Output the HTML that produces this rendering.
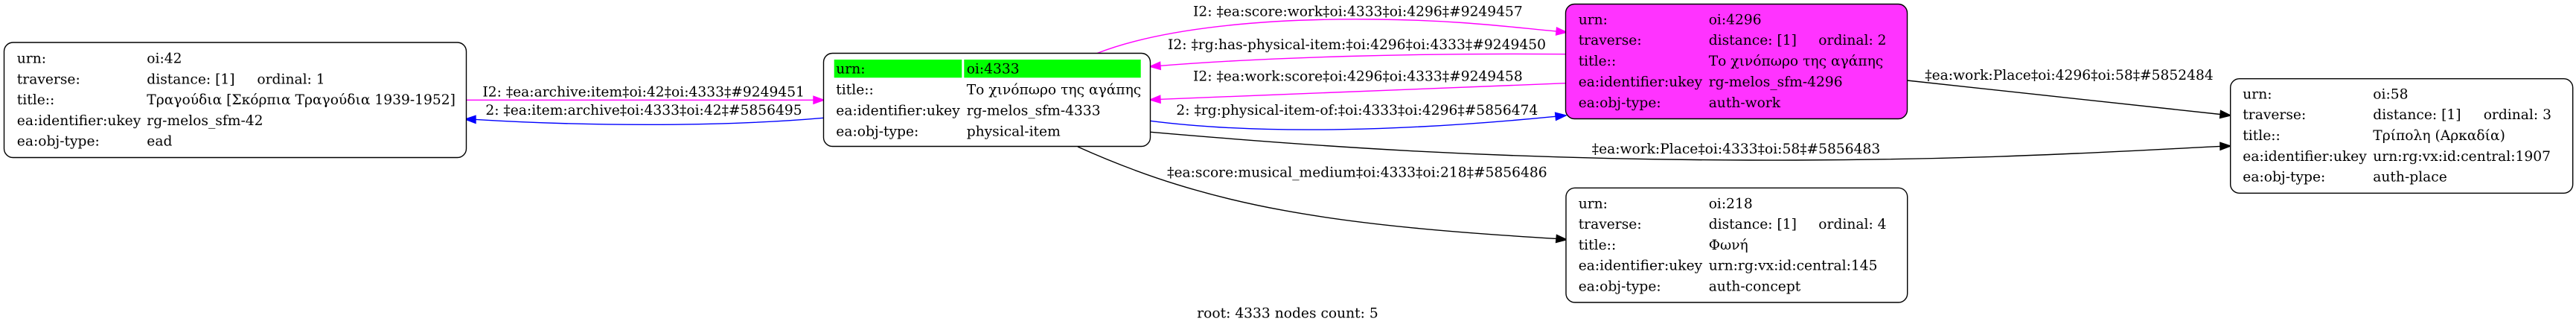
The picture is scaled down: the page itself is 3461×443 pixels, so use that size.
<!DOCTYPE html>
<html>
<head>
<meta charset="utf-8">
<style>
  html, body { margin: 0; padding: 0; background: #ffffff; }
  svg { display: block; }
  text { font-family: "DejaVu Serif", "Liberation Serif", "Noto Serif CJK SC", serif; font-size: 18.67px; fill: #000; }
</style>
</head>
<body>
<svg width="3461" height="443" viewBox="0 0 3461 443" xmlns="http://www.w3.org/2000/svg">
  <rect x="0" y="0" width="3461" height="443" fill="#ffffff"/>

  <!-- ===== Edges ===== -->
  <!-- 42 -> 4333 magenta -->
  <path d="M626.5,134.3 L1093,134.3" fill="none" stroke="#ff00ff" stroke-width="1.4"/>
  <polygon points="1107,134.3 1093,129.3 1093,139.3" fill="#ff00ff" stroke="#ff00ff" stroke-width="1.4"/>
  <text x="864.7" y="129.3" text-anchor="middle">I2: ‡ea:archive:item‡oi:42‡oi:4333‡#9249451</text>

  <!-- 4333 -> 42 blue -->
  <path d="M1106.5,158.3 C960,171 780,169 639,160.4" fill="none" stroke="#0000ff" stroke-width="1.4"/>
  <polygon points="625,160 639,155.4 639,165.4" fill="#0000ff" stroke="#0000ff" stroke-width="1.4"/>
  <text x="865" y="154" text-anchor="middle">2: ‡ea:item:archive‡oi:4333‡oi:42‡#5856495</text>

  <!-- 4333 -> 4296 score:work magenta -->
  <path d="M1474,71.5 C1560,38 1700,24 1850,26 C1960,27 2030,36.5 2091,42" fill="none" stroke="#ff00ff" stroke-width="1.4"/>
  <polygon points="2105,43.3 2090.6,47 2091.6,37" fill="#ff00ff" stroke="#ff00ff" stroke-width="1.4"/>
  <text x="1824.4" y="21.7" text-anchor="middle">I2: ‡ea:score:work‡oi:4333‡oi:4296‡#9249457</text>

  <!-- 4296 -> 4333 has-physical-item magenta -->
  <path d="M2103.5,72.7 C1900,71 1700,77 1559,88.3" fill="none" stroke="#ff00ff" stroke-width="1.4"/>
  <polygon points="1545,89.3 1559.3,93.3 1558.6,83.3" fill="#ff00ff" stroke="#ff00ff" stroke-width="1.4"/>
  <text x="1823" y="66" text-anchor="middle">I2: ‡rg:has-physical-item:‡oi:4296‡oi:4333‡#9249450</text>

  <!-- 4296 -> 4333 work:score magenta -->
  <path d="M2103.5,111.7 C1900,120 1700,127 1559,133.3" fill="none" stroke="#ff00ff" stroke-width="1.4"/>
  <polygon points="1545,134 1559.2,138.3 1558.7,128.3" fill="#ff00ff" stroke="#ff00ff" stroke-width="1.4"/>
  <text x="1824.4" y="108.3" text-anchor="middle">I2: ‡ea:work:score‡oi:4296‡oi:4333‡#9249458</text>

  <!-- 4333 -> 4296 physical-item-of blue -->
  <path d="M1545.5,162.3 C1700,182 1900,175 2090,156.3" fill="none" stroke="#0000ff" stroke-width="1.4"/>
  <polygon points="2104,155 2090.6,161.3 2089.6,151.3" fill="#0000ff" stroke="#0000ff" stroke-width="1.4"/>
  <text x="1823.4" y="154" text-anchor="middle">2: ‡rg:physical-item-of:‡oi:4333‡oi:4296‡#5856474</text>

  <!-- 4333 -> 218 musical medium -->
  <path d="M1448,197 C1628,278 1790,302.5 2091.1,320.4" fill="none" stroke="#000" stroke-width="1.4"/>
  <polygon points="2105,321.7 2090.6,325.4 2091.5,315.4" fill="#000" stroke="#000" stroke-width="1.4"/>
  <text x="1823.4" y="237.5" text-anchor="middle">‡ea:score:musical_medium‡oi:4333‡oi:218‡#5856486</text>

  <!-- 4333 -> 58 -->
  <path d="M1546,177.3 C1750,195 2000,214 2350,215 C2650,216 2850,203 2983,196.4" fill="none" stroke="#000" stroke-width="1.4"/>
  <polygon points="2997,196 2983.1,201.3 2982.9,191.3" fill="#000" stroke="#000" stroke-width="1.4"/>
  <text x="2332.5" y="206" text-anchor="middle">‡ea:work:Place‡oi:4333‡oi:58‡#5856483</text>

  <!-- 4296 -> 58 -->
  <path d="M2562.5,108 L2983.1,153.5" fill="none" stroke="#000" stroke-width="1.4"/>
  <polygon points="2997,155 2982.6,158.5 2983.6,148.5" fill="#000" stroke="#000" stroke-width="1.4"/>
  <text x="2780" y="107" text-anchor="middle">‡ea:work:Place‡oi:4296‡oi:58‡#5852484</text>

  <!-- ===== Node oi:42 ===== -->
  <rect x="5.5" y="57" width="621" height="154.5" rx="12" ry="12" fill="#fff" stroke="#000" stroke-width="1.4"/>
  <text x="22.8" y="84.7">urn:</text><text x="197.3" y="84.7">oi:42</text>
  <text x="22.8" y="112.4">traverse:</text><text x="197.3" y="112.4">distance: [1]</text><text x="345.4" y="112.4">ordinal: 1</text>
  <text x="22.8" y="140.1">title::</text><text x="197.3" y="140.1">Τραγούδια [Σκόρπια Τραγούδια 1939-1952]</text>
  <text x="22.8" y="167.8">ea:identifier:ukey</text><text x="197.3" y="167.8">rg-melos_sfm-42</text>
  <text x="22.8" y="195.5">ea:obj-type:</text><text x="197.3" y="195.5">ead</text>

  <!-- ===== Node oi:4333 (root) ===== -->
  <rect x="1106.5" y="71.5" width="439" height="125" rx="12" ry="12" fill="#fff" stroke="#000" stroke-width="1.4"/>
  <rect x="1120.7" y="80" width="171.6" height="24.3" fill="#00ff00"/>
  <rect x="1295.3" y="80" width="237.4" height="24.3" fill="#00ff00"/>
  <text x="1123.3" y="98.7">urn:</text><text x="1298.7" y="98.7">oi:4333</text>
  <text x="1123.3" y="126.7">title::</text><text x="1298.7" y="126.7">Το χινόπωρο της αγάπης</text>
  <text x="1123.3" y="154.7">ea:identifier:ukey</text><text x="1298.7" y="154.7">rg-melos_sfm-4333</text>
  <text x="1123.3" y="182.7">ea:obj-type:</text><text x="1298.7" y="182.7">physical-item</text>

  <!-- ===== Node oi:4296 ===== -->
  <rect x="2103.5" y="5.5" width="459" height="154" rx="12" ry="12" fill="#ff33ff" stroke="#000" stroke-width="1.4"/>
  <text x="2120.7" y="32.3">urn:</text><text x="2295.7" y="32.3">oi:4296</text>
  <text x="2120.7" y="60">traverse:</text><text x="2295.7" y="60">distance: [1]</text><text x="2443.3" y="60">ordinal: 2</text>
  <text x="2120.7" y="88">title::</text><text x="2295.7" y="88">Το χινόπωρο της αγάπης</text>
  <text x="2120.7" y="116">ea:identifier:ukey</text><text x="2295.7" y="116">rg-melos_sfm-4296</text>
  <text x="2120.7" y="144">ea:obj-type:</text><text x="2295.7" y="144">auth-work</text>

  <!-- ===== Node oi:218 ===== -->
  <rect x="2104" y="252.3" width="458.7" height="153.7" rx="12" ry="12" fill="#fff" stroke="#000" stroke-width="1.4"/>
  <text x="2120.7" y="279.3">urn:</text><text x="2295.7" y="279.3">oi:218</text>
  <text x="2120.7" y="307">traverse:</text><text x="2295.7" y="307">distance: [1]</text><text x="2443.3" y="307">ordinal: 4</text>
  <text x="2120.7" y="335">title::</text><text x="2295.7" y="335">Φωνή</text>
  <text x="2120.7" y="362.6">ea:identifier:ukey</text><text x="2295.7" y="362.6">urn:rg:vx:id:central:145</text>
  <text x="2120.7" y="390.3">ea:obj-type:</text><text x="2295.7" y="390.3">auth-concept</text>

  <!-- ===== Node oi:58 ===== -->
  <rect x="2996.7" y="105.7" width="460" height="153.6" rx="12" ry="12" fill="#fff" stroke="#000" stroke-width="1.4"/>
  <text x="3013.3" y="132.3">urn:</text><text x="3188.3" y="132.3">oi:58</text>
  <text x="3013.3" y="160">traverse:</text><text x="3188.3" y="160">distance: [1]</text><text x="3336.7" y="160">ordinal: 3</text>
  <text x="3013.3" y="188">title::</text><text x="3188.3" y="188">Τρίπολη (Αρκαδία)</text>
  <text x="3013.3" y="216">ea:identifier:ukey</text><text x="3188.3" y="216">urn:rg:vx:id:central:1907</text>
  <text x="3013.3" y="243.7">ea:obj-type:</text><text x="3188.3" y="243.7">auth-place</text>

  <!-- footer -->
  <text x="1730" y="426.7" text-anchor="middle">root: 4333 nodes count: 5</text>
</svg>
</body>
</html>
